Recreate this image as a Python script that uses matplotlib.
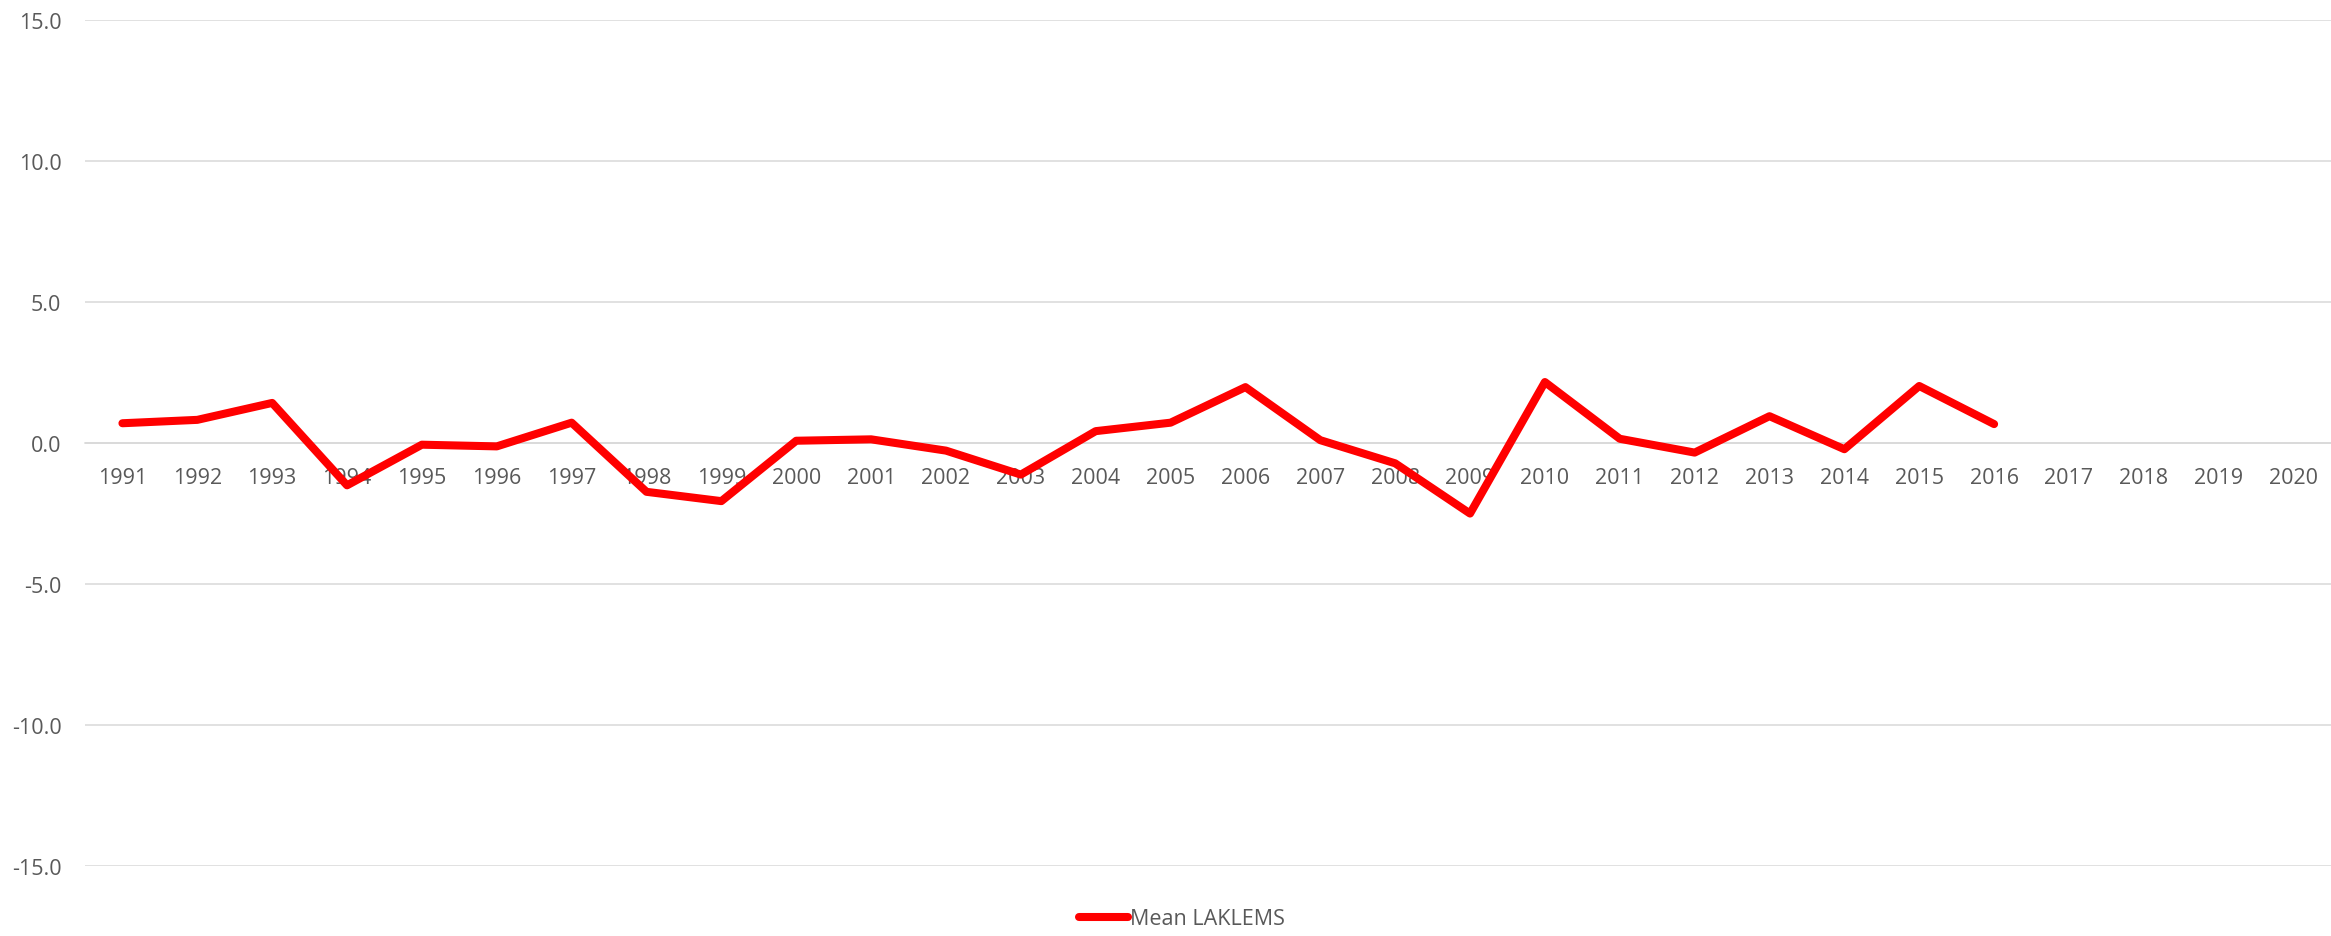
import numpy as np
import matplotlib
matplotlib.use("Agg")
import matplotlib.pyplot as plt

years = [str(y) for y in range(1991, 2021)]
mean_laklems = [0.70, 0.82, 1.42, -1.50, -0.06, -0.12, 0.72, -1.73, -2.06, 0.08,
                0.13, -0.27, -1.12, 0.42, 0.72, 1.98, 0.10, -0.72, -2.50, 2.16,
                0.15, -0.34, 0.95, -0.22, 2.02, 0.67,
                np.nan, np.nan, np.nan, np.nan]
yticks = [-15, -10, -5, 0, 5, 10, 15]

plt.rcParams['font.family'] = ['Open Sans', 'DejaVu Sans']
W, H = 2331, 937
fig = plt.figure(figsize=(W / 100, H / 100), dpi=100)
ax = fig.add_axes([85 / W, 1 - 867.3 / H, (W - 85) / W, (867.3 - 20.7) / H])

x = np.arange(len(years))
ax.plot(x, mean_laklems, color='#ff0000', lw=5.8, solid_capstyle='round',
        solid_joinstyle='round', label='Mean LAKLEMS', zorder=3)

ax.set_xlim(-0.5, len(years) - 0.5)
ax.set_ylim(-15, 15)
ax.set_yticks(yticks)
ax.set_yticklabels([f"{v:.1f}" for v in yticks])
ax.yaxis.grid(True, color='#d9d9d9', lw=1.1)
ax.set_axisbelow(True)
ax.set_xticks(x)
ax.set_xticklabels(years)

for s in ['top', 'right', 'left']:
    ax.spines[s].set_visible(False)
ax.spines['bottom'].set_position(('data', 0))
ax.spines['bottom'].set_color('#d9d9d9')
ax.spines['bottom'].set_linewidth(1.1)
ax.tick_params(axis='x', length=0, pad=17, labelsize=15.5, labelcolor='#595959')
ax.tick_params(axis='y', length=0, pad=17, labelsize=15.5, labelcolor='#595959')

fig.legend(loc='center', bbox_to_anchor=(0.507, 1 - 920 / H), frameon=False,
           handlelength=2.3, handletextpad=0.1, fontsize=15.5, labelcolor='#595959')

fig.savefig('out.png', dpi=100, facecolor='white')
